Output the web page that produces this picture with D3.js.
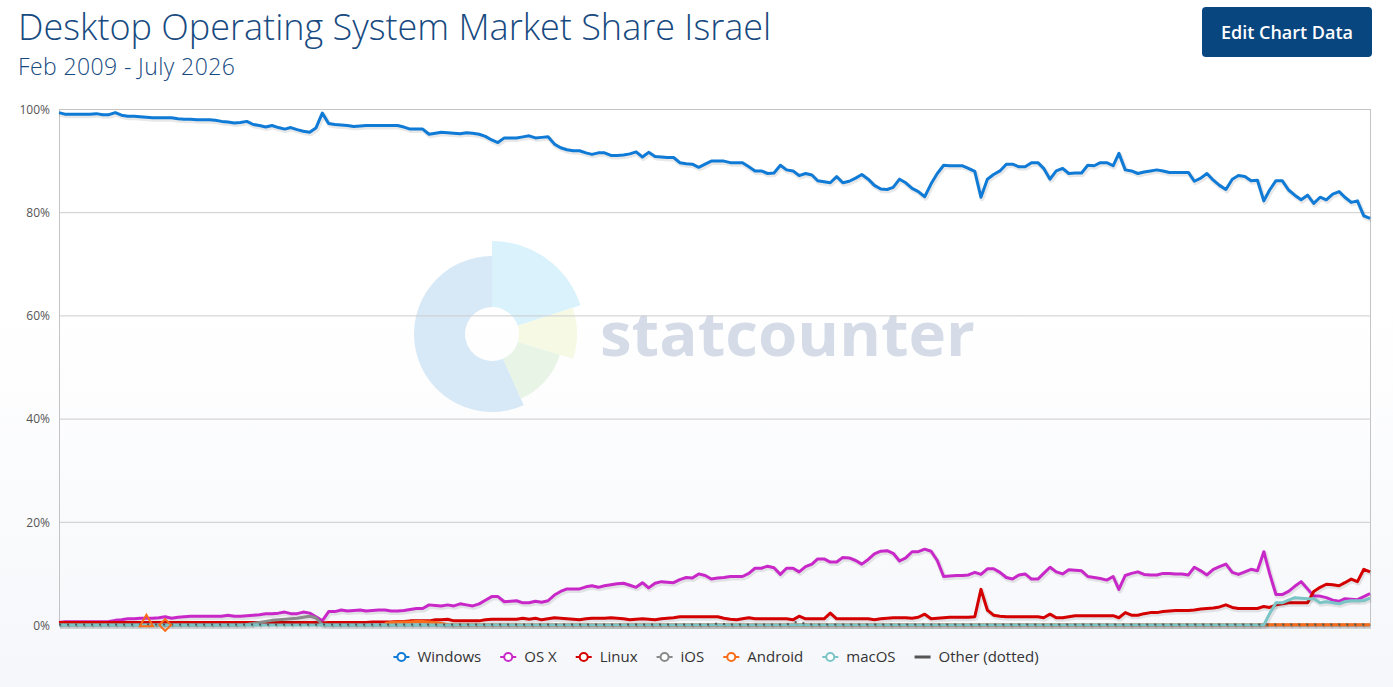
<!DOCTYPE html>
<html>
<head>
<meta charset="utf-8">
<script src="https://cdn.jsdelivr.net/npm/d3@7"></script>
<style>
  body { margin: 0; background: #fff; font-family: "Open Sans", sans-serif; }
  svg { display: block; }
</style>
</head>
<body>
<svg id="chart" width="1393" height="687"></svg>
<script>
// monthly points, Feb 2009 .. Jul 2026
const months = d3.timeMonth.range(new Date(2009, 1, 1), new Date(2026, 7, 1));

const yTicks = [0, 20, 40, 60, 80, 100];

const windows = [
  99.3, 99.0, 99.0, 99.0, 99.0, 99.0, 99.1, 98.9, 98.9, 99.3,
  98.8, 98.6, 98.6, 98.5, 98.4, 98.3, 98.3, 98.3, 98.3, 98.1,
  98.0, 98.0, 97.9, 97.9, 97.9, 97.8, 97.6, 97.5, 97.3, 97.4,
  97.6, 97.0, 96.8, 96.5, 96.8, 96.4, 96.1, 96.4, 96.0, 95.7,
  95.5, 96.3, 99.2, 97.2, 97.0, 96.9, 96.8, 96.6, 96.7, 96.8,
  96.8, 96.8, 96.8, 96.8, 96.8, 96.5, 96.1, 96.1, 96.1, 95.1,
  95.3, 95.5, 95.4, 95.3, 95.2, 95.4, 95.3, 95.1, 94.7, 94.0,
  93.5, 94.4, 94.4, 94.4, 94.6, 94.8, 94.4, 94.5, 94.6, 93.2,
  92.5, 92.1, 91.9, 91.9, 91.5, 91.2, 91.5, 91.5, 91.0, 91.0,
  91.1, 91.3, 91.7, 90.7, 91.6, 90.8, 90.7, 90.6, 90.6, 89.6,
  89.4, 89.3, 88.7, 89.3, 89.9, 89.9, 89.9, 89.6, 89.6, 89.6,
  88.8, 88.0, 88.0, 87.5, 87.6, 89.1, 88.2, 88.0, 87.1, 87.5,
  87.2, 86.1, 85.9, 85.7, 86.9, 85.7, 86.0, 86.6, 87.3, 86.4,
  85.2, 84.5, 84.4, 84.8, 86.4, 85.7, 84.6, 84.0, 83.0, 85.5,
  87.5, 89.1, 89.0, 89.0, 89.0, 88.5, 87.9, 82.9, 86.4, 87.3,
  88.0, 89.3, 89.3, 88.8, 88.8, 89.6, 89.6, 88.5, 86.4, 88.0,
  88.5, 87.5, 87.6, 87.6, 89.1, 89.0, 89.6, 89.6, 89.0, 91.4,
  88.2, 88.0, 87.5, 87.8, 88.0, 88.2, 88.0, 87.7, 87.7, 87.7,
  87.7, 86.0, 86.6, 87.5, 86.2, 85.2, 84.4, 86.4, 87.1, 86.9,
  86.1, 86.2, 82.2, 84.3, 86.1, 86.1, 84.3, 83.3, 82.4, 83.3,
  81.7, 82.9, 82.4, 83.5, 84.0, 82.9, 81.9, 82.2, 79.3, 78.8
];

const osx = [
  0.5, 0.65, 0.65, 0.65, 0.65, 0.65, 0.65, 0.65, 0.7, 0.9,
  1.0, 1.2, 1.2, 1.3, 1.3, 1.3, 1.4, 1.6, 1.3, 1.5,
  1.6, 1.7, 1.7, 1.7, 1.7, 1.7, 1.7, 1.9, 1.7, 1.7,
  1.8, 1.9, 2.0, 2.2, 2.2, 2.3, 2.5, 2.2, 2.2, 2.5,
  2.3, 1.6, 0.8, 2.6, 2.6, 2.9, 2.7, 2.8, 2.9, 2.7,
  2.8, 2.9, 2.9, 2.7, 2.7, 2.8, 3.0, 3.2, 3.2, 3.9,
  3.8, 3.7, 3.9, 3.7, 4.1, 3.9, 3.7, 4.1, 4.8, 5.5,
  5.5, 4.5, 4.6, 4.7, 4.3, 4.3, 4.6, 4.4, 4.7, 5.8,
  6.5, 7.0, 7.0, 7.0, 7.4, 7.6, 7.3, 7.6, 7.8, 8.0,
  8.1, 7.7, 7.3, 8.2, 7.2, 8.1, 8.4, 8.3, 8.2, 8.8,
  9.2, 9.1, 9.9, 9.6, 8.9, 9.1, 9.2, 9.4, 9.4, 9.4,
  10.0, 11.0, 11.0, 11.4, 11.1, 9.8, 11.0, 11.0, 10.3, 11.3,
  11.8, 12.8, 12.8, 12.2, 12.2, 13.1, 13.0, 12.5, 11.8, 12.7,
  13.8, 14.3, 14.4, 13.9, 12.4, 13.0, 14.2, 14.2, 14.7, 14.3,
  12.5, 9.4, 9.5, 9.6, 9.6, 9.7, 10.2, 9.8, 10.9, 10.9,
  10.2, 9.2, 8.9, 9.7, 9.9, 8.9, 8.9, 10.0, 11.2, 10.3,
  9.9, 10.7, 10.6, 10.5, 9.4, 9.2, 9.0, 8.7, 9.4, 6.9,
  9.6, 10.0, 10.3, 9.8, 9.7, 9.7, 10.0, 10.0, 9.9, 9.9,
  9.7, 11.2, 10.5, 9.7, 10.8, 11.3, 11.8, 10.2, 9.8, 10.3,
  10.8, 10.5, 14.2, 10.0, 5.9, 5.9, 6.5, 7.5, 8.4, 7.0,
  5.6, 5.6, 5.3, 4.8, 4.6, 5.1, 5.0, 4.9, 5.5, 6.1
];

const linux = [
  0.5, 0.5, 0.5, 0.5, 0.5, 0.5, 0.5, 0.5, 0.5, 0.5,
  0.5, 0.5, 0.5, 0.5, 0.5, 0.5, 0.5, 0.5, 0.5, 0.5,
  0.5, 0.5, 0.5, 0.5, 0.5, 0.5, 0.5, 0.5, 0.5, 0.5,
  0.5, 0.5, 0.5, 0.5, 0.5, 0.5, 0.5, 0.5, 0.5, 0.5,
  0.5, 0.5, 0.4, 0.5, 0.5, 0.5, 0.5, 0.5, 0.5, 0.5,
  0.6, 0.6, 0.6, 0.6, 0.7, 0.7, 0.8, 0.8, 0.8, 0.8,
  1.0, 1.0, 1.1, 0.8, 0.8, 0.8, 0.8, 0.8, 1.0, 1.1,
  1.1, 1.1, 1.1, 1.1, 1.3, 1.1, 1.3, 1.0, 1.2, 1.4,
  1.3, 1.2, 1.1, 1.0, 1.2, 1.3, 1.3, 1.3, 1.4, 1.3,
  1.2, 1.0, 1.1, 1.2, 1.1, 1.0, 1.2, 1.3, 1.4, 1.6,
  1.6, 1.6, 1.6, 1.6, 1.6, 1.6, 1.3, 1.1, 1.0, 1.2,
  1.4, 1.2, 1.2, 1.2, 1.2, 1.2, 1.2, 1.0, 1.7, 1.2,
  1.2, 1.2, 1.2, 2.3, 1.2, 1.2, 1.2, 1.2, 1.2, 1.2,
  1.0, 1.2, 1.3, 1.4, 1.4, 1.4, 1.3, 1.5, 2.1, 1.2,
  1.3, 1.4, 1.5, 1.5, 1.5, 1.5, 1.6, 6.9, 2.9, 1.9,
  1.7, 1.6, 1.6, 1.6, 1.6, 1.6, 1.6, 1.4, 2.1, 1.4,
  1.4, 1.6, 1.8, 1.8, 1.8, 1.8, 1.8, 1.8, 1.8, 1.4,
  2.4, 1.9, 1.9, 2.2, 2.4, 2.4, 2.6, 2.7, 2.8, 2.8,
  2.8, 2.9, 3.1, 3.2, 3.3, 3.5, 3.9, 3.4, 3.2, 3.2,
  3.2, 3.2, 3.6, 3.4, 3.9, 4.1, 4.3, 4.3, 4.3, 4.3,
  6.5, 7.3, 7.9, 7.8, 7.6, 8.2, 8.9, 8.4, 10.8, 10.3
];

const ios = [
  0, 0, 0, 0, 0, 0, 0, 0, 0, 0,
  0, 0, 0, 0, 0, 0, 0, 0, 0, 0,
  0, 0, 0, 0, 0, 0, 0, 0, 0, 0,
  0.1, 0.3, 0.5, 0.7, 0.9, 1.0, 1.1, 1.2, 1.3, 1.5,
  1.7, 1.4, 0.1, 0, 0, 0, 0, 0, 0, 0,
  0, 0, 0, 0, 0, 0, 0, 0, 0, 0,
  0, 0, 0, 0, 0, 0, 0, 0, 0, 0,
  0, 0, 0, 0, 0, 0, 0, 0, 0, 0,
  0, 0, 0, 0, 0, 0, 0, 0, 0, 0,
  0, 0, 0, 0, 0, 0, 0, 0, 0, 0,
  0, 0, 0, 0, 0, 0, 0, 0, 0, 0,
  0, 0, 0, 0, 0, 0, 0, 0, 0, 0,
  0, 0, 0, 0, 0, 0, 0, 0, 0, 0,
  0, 0, 0, 0, 0, 0, 0, 0, 0, 0,
  0, 0, 0, 0, 0, 0, 0, 0, 0, 0,
  0, 0, 0, 0, 0, 0, 0, 0, 0, 0,
  0, 0, 0, 0, 0, 0, 0, 0, 0, 0,
  0, 0, 0, 0, 0, 0, 0, 0, 0, 0,
  0, 0, 0, 0, 0, 0, 0, 0, 0, 0,
  0, 0, 0, 0, 0, 0, 0, 0, 0, 0,
  0, 0, 0, 0, 0, 0, 0, 0, 0, 0
];

const android = [
  null, null, null, null, null, null, null, null, null, null,
  null, null, null, null, 0.5, null, null, 0.0, null, null,
  null, null, null, null, null, null, null, null, null, null,
  null, null, null, null, null, null, null, null, null, null,
  null, null, null, null, null, null, null, null, null, null,
  null, null, 0.3, 0.5, 0.6, 0.6, 0.6, 0.7, 0.7, 0.6,
  0.5, 0.3, 0.1, 0, 0, 0, 0, 0, 0, 0,
  0, 0, 0, 0, 0, 0, 0, 0, 0, 0,
  0, 0, 0, 0, 0, 0, 0, 0, 0, 0,
  0, 0, 0, 0, 0, 0, 0, 0, 0, 0,
  0, 0, 0, 0, 0, 0, 0, 0, 0, 0,
  0, 0, 0, 0, 0, 0, 0, 0, 0, 0,
  0, 0, 0, 0, 0, 0, 0, 0, 0, 0,
  0, 0, 0, 0, 0, 0, 0, 0, 0, 0,
  0, 0, 0, 0, 0, 0, 0, 0, 0, 0,
  0, 0, 0, 0, 0, 0, 0, 0, 0, 0,
  0, 0, 0, 0, 0, 0, 0, 0, 0, 0,
  0, 0, 0, 0, 0, 0, 0, 0, 0, 0,
  0, 0, 0, 0, 0, 0, 0, 0, 0, 0,
  0, 0, 0.05, 0.05, 0.05, 0.05, 0.05, 0.05, 0.05, 0.05,
  0.05, 0.05, 0.05, 0.05, 0.05, 0.05, 0.05, 0.05, 0.05, 0.05
];

const macos = [
  0, 0, 0, 0, 0, 0, 0, 0, 0, 0,
  0, 0, 0, 0, 0, 0, 0, 0, 0, 0,
  0, 0, 0, 0, 0, 0, 0, 0, 0, 0,
  0, 0, 0, 0, 0, 0, 0, 0, 0, 0,
  0, 0, 0, 0, 0, 0, 0, 0, 0, 0,
  0, 0, 0, 0, 0, 0, 0, 0, 0, 0,
  0, 0, 0, 0, 0, 0, 0, 0, 0, 0,
  0, 0, 0, 0, 0, 0, 0, 0, 0, 0,
  0, 0, 0, 0, 0, 0, 0, 0, 0, 0,
  0, 0, 0, 0, 0, 0, 0, 0, 0, 0,
  0, 0, 0, 0, 0, 0, 0, 0, 0, 0,
  0, 0, 0, 0, 0, 0, 0, 0, 0, 0,
  0, 0, 0, 0, 0, 0, 0, 0, 0, 0,
  0, 0, 0, 0, 0, 0, 0, 0, 0, 0,
  0, 0, 0, 0, 0, 0, 0, 0, 0, 0,
  0, 0, 0, 0, 0, 0, 0, 0, 0, 0,
  0, 0, 0, 0, 0, 0, 0, 0, 0, 0,
  0, 0, 0, 0, 0, 0, 0, 0, 0, 0,
  0, 0, 0, 0, 0, 0, 0, 0, 0, 0,
  0, 0, 0, 2.2, 4.3, 4.3, 4.8, 5.3, 5.2, 5.1,
  5.1, 4.3, 4.5, 4.3, 4.1, 4.5, 4.7, 4.7, 4.7, 5.2
];

const other = [
  0.1, 0.1, 0.1, 0.1, 0.1, 0.1, 0.1, 0.1, 0.1, 0.1,
  0.1, 0.1, 0.1, 0.1, 0.1, 0.1, 0.1, 0.1, 0.1, 0.1,
  0.1, 0.1, 0.1, 0.1, 0.1, 0.1, 0.1, 0.1, 0.1, 0.1,
  0.1, 0.1, 0.1, 0.1, 0.1, 0.1, 0.1, 0.1, 0.1, 0.1,
  0.1, 0.1, 0.1, 0.1, 0.1, 0.1, 0.1, 0.1, 0.1, 0.1,
  0.1, 0.1, 0.1, 0.1, 0.1, 0.1, 0.1, 0.1, 0.1, 0.1,
  0.1, 0.1, 0.1, 0.1, 0.1, 0.1, 0.1, 0.1, 0.1, 0.1,
  0.1, 0.1, 0.1, 0.1, 0.1, 0.1, 0.1, 0.1, 0.1, 0.1,
  0.1, 0.1, 0.1, 0.1, 0.1, 0.1, 0.1, 0.1, 0.1, 0.1,
  0.1, 0.1, 0.1, 0.1, 0.1, 0.1, 0.1, 0.1, 0.1, 0.1,
  0.1, 0.1, 0.1, 0.1, 0.1, 0.3, 0.2, 0.1, 0.1, 0.1,
  0.1, 0.1, 0.1, 0.1, 0.1, 0.1, 0.1, 0.5, 0.6, 0.2,
  0.1, 0.1, 0.1, 0.1, 0.1, 0.1, 0.1, 0.1, 0.1, 0.1,
  0.1, 0.1, 0.1, 0.1, 0.1, 0.1, 0.1, 0.1, 0.1, 0.1,
  0.1, 0.1, 0.1, 0.1, 0.1, 0.1, 0.1, 0.1, 0.1, 0.1,
  0.1, 0.1, 0.1, 0.1, 0.1, 0.1, 0.1, 0.1, 0.1, 0.1,
  0.1, 0.1, 0.1, 0.1, 0.1, 0.1, 0.1, 0.1, 0.1, 0.1,
  0.1, 0.1, 0.1, 0.1, 0.1, 0.1, 0.1, 0.1, 0.1, 0.1,
  0.1, 0.1, 0.1, 0.1, 0.1, 0.1, 0.1, 0.1, 0.1, 0.1,
  0.1, 0.1, 0.1, 0.1, 0.1, 0.1, 0.1, 0.1, 0.1, 0.1,
  0.1, 0.1, 0.1, 0.1, 0.1, 0.1, 0.1, 0.1, 0.1, 0.1
];

const series = [
  { name: "Windows", values: windows, color: "#0f7bd6", width: 3 },
  { name: "OS X", values: osx, color: "#c928c9", width: 3 },
  { name: "Linux", values: linux, color: "#d40000", width: 3 },
  { name: "iOS", values: ios, color: "#8a8a8a", width: 3 },
  { name: "Android", values: android, color: "#f86d1b", width: 3 },
  { name: "macOS", values: macos, color: "#7cc5c7", width: 3 },
  { name: "Other (dotted)", values: other, color: "#555", width: 2, dash: "2,6", noMarker: true }
];

const svg = d3.select("#chart"),
    width = +svg.attr("width"),
    height = +svg.attr("height");

const plot = { left: 59, right: 1370, top: 109, bottom: 625 };

const x = d3.scaleTime()
    .domain([months[0], months[months.length - 1]])
    .range([plot.left, plot.right]);

const y = d3.scaleLinear()
    .domain([0, 100])
    .range([plot.bottom, plot.top]);

// background, fades to a faint grey-blue at the bottom
const defs = svg.append("defs");
const grad = defs.append("linearGradient")
    .attr("id", "bg")
    .attr("x1", 0).attr("y1", 0).attr("x2", 0).attr("y2", 1);
grad.append("stop").attr("offset", "0.45").attr("stop-color", "#ffffff");
grad.append("stop").attr("offset", "1").attr("stop-color", "#f6f7fb");

svg.append("rect")
    .attr("width", width)
    .attr("height", height)
    .attr("fill", "url(#bg)");

// statcounter watermark
const mark = svg.append("g").attr("transform", "translate(492,334)");
const deg = Math.PI / 180;
const petals = [
  { a0: 0, a1: 72, r: 93, fill: "#d9f2fb" },
  { a0: 72, a1: 107, r: 85, fill: "#f6f9e3" },
  { a0: 107, a1: 156, r: 71, fill: "#e8f4e5" },
  { a0: 156, a1: 360, r: 78, fill: "#d7e8f7" }
];
mark.selectAll("path")
    .data(petals)
    .enter().append("path")
    .attr("fill", d => d.fill)
    .attr("d", d => d3.arc()({ innerRadius: 27, outerRadius: d.r, startAngle: d.a0 * deg, endAngle: d.a1 * deg }));

svg.append("text")
    .attr("x", 600)
    .attr("y", 356)
    .attr("textLength", 375)
    .attr("lengthAdjust", "spacingAndGlyphs")
    .style("font-size", "60px")
    .style("font-weight", 700)
    .style("fill", "#d5dce8")
    .text("statcounter");

// grid
svg.append("g")
    .selectAll("line")
    .data(yTicks)
    .enter().append("line")
    .attr("x1", plot.left)
    .attr("x2", plot.right)
    .attr("y1", d => y(d) + 0.5)
    .attr("y2", d => y(d) + 0.5)
    .attr("stroke", "#cccccc")
    .attr("stroke-width", 1);

svg.append("rect")
    .attr("x", plot.left + 0.5)
    .attr("y", plot.top + 0.5)
    .attr("width", plot.right - plot.left)
    .attr("height", plot.bottom - plot.top)
    .attr("fill", "none")
    .attr("stroke", "#c4c4c4");

const yAxis = svg.append("g")
    .attr("transform", `translate(${plot.left - 6},0)`)
    .call(d3.axisLeft(y).tickValues(yTicks).tickSize(0).tickFormat(d => d + "%"));
yAxis.select(".domain").remove();
yAxis.selectAll("text")
    .attr("dy", "0.35em")
    .style("font-family", "'Open Sans', sans-serif")
    .style("font-size", "12px")
    .style("fill", "#555");

// series lines
const line = d3.line()
    .defined(d => d != null)
    .x((d, i) => x(months[i]))
    .y(d => y(d));

const lines = svg.append("g").attr("class", "lines");

series.forEach(s => {
    lines.append("path")
        .attr("d", line(s.values))
        .attr("fill", "none")
        .attr("stroke", "rgba(0,0,0,0.09)")
        .attr("stroke-width", s.width + 2)
        .attr("stroke-linejoin", "round")
        .attr("transform", "translate(1,1.5)")
        .attr("stroke-dasharray", s.dash || null);
    lines.append("path")
        .attr("d", line(s.values))
        .attr("fill", "none")
        .attr("stroke", s.color)
        .attr("stroke-width", s.width)
        .attr("stroke-linejoin", "round")
        .attr("stroke-dasharray", s.dash || null);
});

// points with no neighbours get a marker (Android 2010)
const lonely = [];
series.forEach(s => {
    s.values.forEach((v, i) => {
        if (v == null) return;
        const prev = i > 0 ? s.values[i - 1] : null;
        const next = i < s.values.length - 1 ? s.values[i + 1] : null;
        if (prev == null && next == null) lonely.push({ s, i, v });
    });
});
const shapes = [d3.symbolTriangle, d3.symbolSquare];
lines.selectAll(".lonely")
    .data(lonely)
    .enter().append("path")
    .attr("class", "lonely")
    .attr("d", (d, k) => d3.symbol().type(shapes[k % 2]).size(k % 2 ? 70 : 75)())
    .attr("transform", (d, k) => `translate(${x(months[d.i])},${y(d.v)})` + (k % 2 ? " rotate(45)" : ""))
    .attr("fill", "none")
    .attr("stroke", d => d.s.color)
    .attr("stroke-width", 2);

// title, subtitle, button
svg.append("text")
    .attr("x", 18)
    .attr("y", 39.5)
    .style("font-size", "36px")
    .style("font-weight", 300)
    .style("fill", "#174a80")
    .text("Desktop Operating System Market Share Israel");

svg.append("text")
    .attr("x", 18)
    .attr("y", 74.5)
    .style("font-size", "23px")
    .style("font-weight", 300)
    .style("letter-spacing", "0.4px")
    .style("fill", "#174a80")
    .text("Feb 2009 - July 2026");

const btn = svg.append("g");
btn.append("rect")
    .attr("x", 1202)
    .attr("y", 7)
    .attr("width", 170)
    .attr("height", 50)
    .attr("rx", 4)
    .attr("fill", "#08467f");
btn.append("text")
    .attr("x", 1287)
    .attr("y", 38.5)
    .attr("text-anchor", "middle")
    .style("font-size", "18px")
    .style("font-weight", 600)
    .style("fill", "#fff")
    .text("Edit Chart Data");

// legend
const legend = svg.append("g");
let cursor = 0;
series.forEach(s => {
    const item = legend.append("g").attr("transform", `translate(${cursor},0)`);
    item.append("line")
        .attr("x1", 0).attr("x2", 16)
        .attr("y1", 0).attr("y2", 0)
        .attr("stroke", s.color)
        .attr("stroke-width", s.noMarker ? 3 : 2);
    if (!s.noMarker) {
        item.append("circle")
            .attr("cx", 8).attr("cy", 0).attr("r", 4)
            .attr("fill", "#fff")
            .attr("stroke", s.color)
            .attr("stroke-width", 2);
    }
    const t = item.append("text")
        .attr("x", 24)
        .attr("dy", "0.35em")
        .style("font-size", "15px")
        .style("fill", "#333")
        .text(s.name);
    cursor += 24 + t.node().getComputedTextLength() + 19;
});
const legendWidth = cursor - 19;
legend.attr("transform", `translate(${716 - legendWidth / 2},657)`);
</script>
</body>
</html>
